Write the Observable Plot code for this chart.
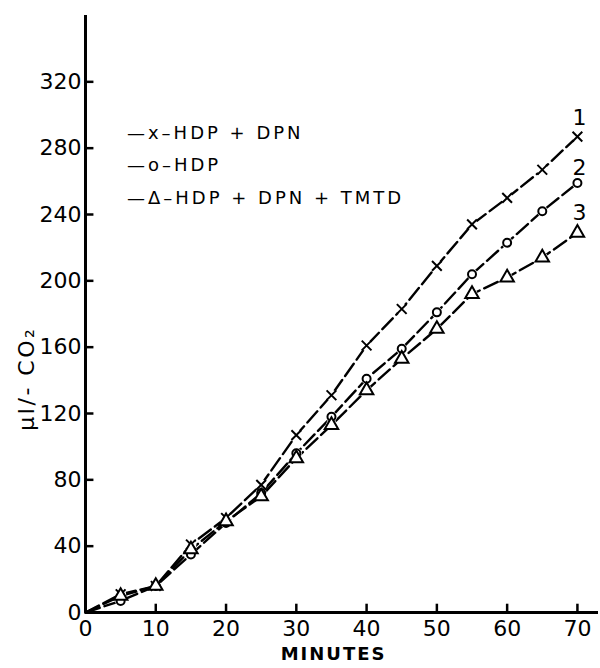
<!DOCTYPE html>
<html>
<head>
<meta charset="utf-8">
<script src="https://cdn.jsdelivr.net/npm/d3@7"></script>
<script src="https://cdn.jsdelivr.net/npm/@observablehq/plot@0.6"></script>
<style>
  html, body { margin: 0; padding: 0; background: #fff; }
  #chart { width: 600px; height: 668px; }
  svg { font-family: "DejaVu Sans", sans-serif; }
</style>
</head>
<body>
<div id="chart"></div>
<script>
const minutes = [5, 10, 15, 20, 25, 30, 35, 40, 45, 50, 55, 60, 65, 70];
const hdpDpn = [11, 16, 41, 57, 77, 107, 131, 161, 183, 209, 234, 250, 267, 287];
const hdp = [7, 16, 35, 54, 72, 96, 118, 141, 159, 181, 204, 223, 242, 259];
const hdpDpnTmtd = [10, 16, 38, 55, 70, 93, 113, 134, 153, 171, 192, 202, 214, 229];

const seriesNames = ["1", "2", "3"];
const seriesSymbols = ["times", "circle", "triangle"];
const seriesValues = [hdpDpn, hdp, hdpDpnTmtd];

const xTicks = [0, 10, 20, 30, 40, 50, 60, 70];
const yTicks = [0, 40, 80, 120, 160, 200, 240, 280, 320];

const legendLabels = ["—x–HDP + DPN", "—o–HDP", "—Δ–HDP + DPN + TMTD"];
const legendY = [289, 270, 250];
const endLabelY = [298, 268, 241];
const xLabel = "MINUTES";
const yLabel = "μl/- CO₂";

const points = [];
const lines = [];
seriesValues.forEach((vals, s) => {
  lines.push({series: s, m: 0, v: 0});
  vals.forEach((v, i) => {
    points.push({series: s, m: minutes[i], v});
    lines.push({series: s, m: minutes[i], v});
  });
});

const markerRadius = {times: 4.5, circle: 4, triangle: 5};
const markers = seriesSymbols.map((sym, s) =>
  Plot.dot(points.filter(d => d.series === s), {
    x: "m", y: "v", symbol: () => sym, r: markerRadius[sym],
    stroke: "black", strokeWidth: 2, fill: "white"
  })
);

const chart = Plot.plot({
  width: 600,
  height: 668,
  marginLeft: 85,
  marginRight: 2,
  marginTop: 15,
  marginBottom: 56,
  style: {fontFamily: "DejaVu Sans, sans-serif", background: "white"},
  x: {domain: [0, 73], axis: null},
  y: {domain: [0, 360], axis: null},
  symbol: {type: "identity"},
  marks: [
    Plot.axisX(xTicks, {tickSize: 0, tickPadding: 8, fontSize: 22, label: null, tickFormat: d => String(d)}),
    Plot.axisY(yTicks, {tickSize: 0, tickPadding: 4, fontSize: 22, label: null, tickFormat: d => String(d)}),
    Plot.ruleX(xTicks.slice(1), {y1: 0, y2: 5, strokeWidth: 2.5}),
    Plot.ruleY(yTicks.slice(1), {x1: 0, x2: 1.2, strokeWidth: 2.5}),
    Plot.ruleY([0], {x1: 0, x2: 73, strokeWidth: 3}),
    Plot.ruleX([0], {y1: 0, y2: 360, strokeWidth: 3}),
    Plot.line(lines, {x: "m", y: "v", z: "series", stroke: "black", strokeWidth: 2.4, strokeDasharray: "15,5"}),
    Plot.dot(points, {x: "m", y: "v", r: 5.5, fill: "white", stroke: "none"}),
    ...markers,
    Plot.text(seriesNames, {x: () => 70.3, y: (d, i) => endLabelY[i], text: d => d, fontSize: 22}),
    Plot.text(legendLabels, {x: () => 5.9, y: (d, i) => legendY[i], text: d => d, textAnchor: "start", fontSize: 18}),
    Plot.text([xLabel], {x: () => 35.3, frameAnchor: "bottom", dy: 47, fontSize: 18, fontWeight: "bold"}),
    Plot.text([yLabel], {y: () => 141, frameAnchor: "left", textAnchor: "middle", dx: -59, rotate: -90, fontSize: 22})
  ]
});
// letter spacing for labels (not a Plot option)
d3.select(chart).selectAll("text").each(function() {
  const t = this.textContent;
  if (legendLabels.includes(t)) this.setAttribute("letter-spacing", "3");
  else if (t === xLabel) this.setAttribute("letter-spacing", "2");
  else if (t === yLabel) this.setAttribute("letter-spacing", "2.5");
});
document.getElementById("chart").appendChild(chart);
</script>
</body>
</html>
